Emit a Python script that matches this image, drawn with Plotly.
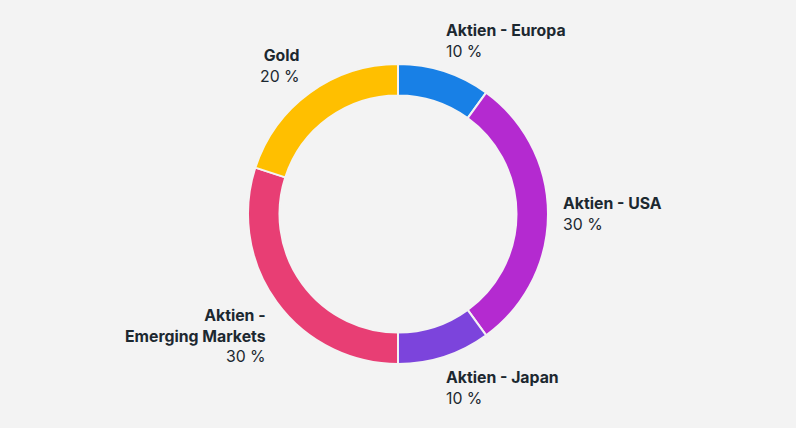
import plotly.graph_objects as go

labels = ["Aktien - Europa", "Aktien - USA", "Aktien - Japan", "Aktien - Emerging Markets", "Gold"]
values = [10, 30, 10, 30, 20]
colors = ["#1880e6", "#b42ad0", "#7c44dc", "#e83e74", "#ffbf00"]
label_text = ["<b>Aktien - Europa</b><br>10 %", "<b>Aktien - USA</b><br>30 %", "<b>Aktien - Japan</b><br>10 %",
              "<b>Aktien -</b><br><b>Emerging Markets</b><br>30 %", "<b>Gold</b><br>20 %"]

W, H = 796, 428
cx, cy, R = 398, 214, 150

fig = go.Figure(go.Pie(
    labels=labels, values=values, sort=False, direction="clockwise", rotation=0,
    hole=0.79, textinfo="none", hoverinfo="label+percent",
    marker=dict(colors=colors, line=dict(color="#f3f3f3", width=2)),
    domain=dict(x=[(cx - R) / W, (cx + R) / W], y=[(H - cy - R) / H, (H - cy + R) / H]),
    showlegend=False,
))

# label anchor positions (pixels): x, top-y, anchor
anchors = [(444, 19, "left"), (561, 192, "left"), (444, 366, "left"), (268, 304, "right"), (302, 44, "right")]
for txt, (x, y, xa) in zip(label_text, anchors):
    fig.add_annotation(x=x / W, y=1 - y / H, xref="paper", yref="paper", text=txt,
                       showarrow=False, xanchor=xa, yanchor="top", align=xa,
                       font=dict(family="Inter, Lato, sans-serif", size=15.8, color="#1c2830"))

fig.update_layout(width=W, height=H, margin=dict(l=0, r=0, t=0, b=0),
                  paper_bgcolor="#f3f3f3", plot_bgcolor="#f3f3f3")
fig.write_html("out.html")
